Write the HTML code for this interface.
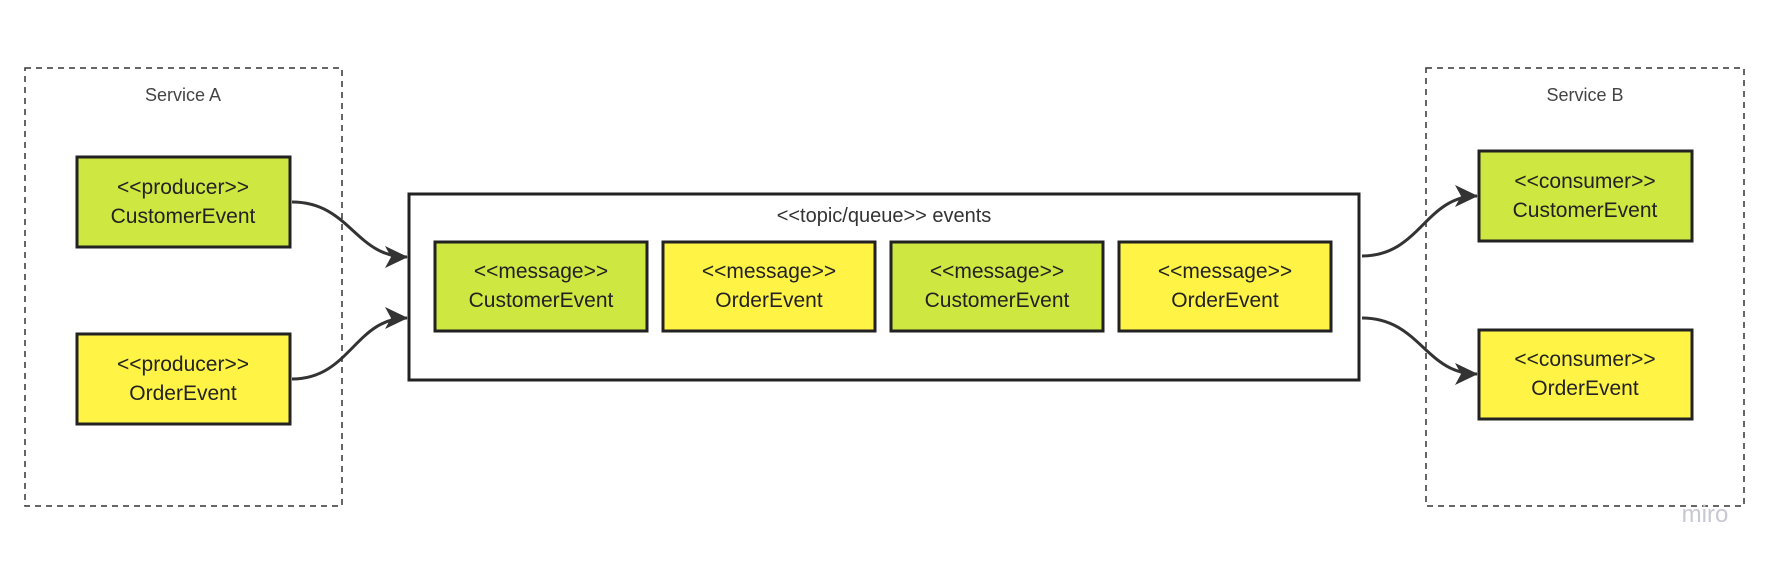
<!DOCTYPE html>
<html><head><meta charset="utf-8"><style>
body{margin:0;background:#fff;width:1771px;height:564px;overflow:hidden;font-family:"Liberation Sans",sans-serif;}
</style></head><body>
<svg width="1771" height="564" viewBox="0 0 1771 564" xmlns="http://www.w3.org/2000/svg" font-family="Liberation Sans, sans-serif">
<defs>
<marker id="b" viewBox="0 0 24 24" markerWidth="24" markerHeight="24" refX="22" refY="12" orient="auto" markerUnits="userSpaceOnUse"><path d="M0,1 L23,12 L0,23 L6,12 Z" fill="#333"/></marker></defs>
<g fill="none" stroke="#333" stroke-width="1.5" stroke-dasharray="6,5">
<rect x="25" y="68" width="317" height="438"/>
<rect x="1426" y="68" width="318" height="438"/>
</g>
<g font-size="18" fill="#444" text-anchor="middle">
<text x="183" y="101">Service A</text>
<text x="1585" y="101">Service B</text>
</g>
<rect x="409" y="194" width="950" height="186" fill="#fff" stroke="#222" stroke-width="3"/>
<text x="884" y="222" font-size="20" fill="#333" text-anchor="middle">&lt;&lt;topic/queue&gt;&gt; events</text>
<g stroke="#222" stroke-width="3">
<rect x="77" y="157" width="213" height="90" fill="#cee741"/>
<rect x="77" y="334" width="213" height="90" fill="#fff445"/>
<rect x="1479" y="151" width="213" height="90" fill="#cee741"/>
<rect x="1479" y="330" width="213" height="89" fill="#fff445"/>
<rect x="435" y="242" width="212" height="89" fill="#cee741"/>
<rect x="663" y="242" width="212" height="89" fill="#fff445"/>
<rect x="891" y="242" width="212" height="89" fill="#cee741"/>
<rect x="1119" y="242" width="212" height="89" fill="#fff445"/>
</g>
<g font-size="21" fill="#222" text-anchor="middle">
<text x="183" y="194">&lt;&lt;producer&gt;&gt;</text><text x="183" y="223">CustomerEvent</text>
<text x="183" y="371">&lt;&lt;producer&gt;&gt;</text><text x="183" y="400">OrderEvent</text>
<text x="1585" y="188">&lt;&lt;consumer&gt;&gt;</text><text x="1585" y="217">CustomerEvent</text>
<text x="1585" y="366">&lt;&lt;consumer&gt;&gt;</text><text x="1585" y="395">OrderEvent</text>
<text x="541" y="278">&lt;&lt;message&gt;&gt;</text><text x="541" y="307">CustomerEvent</text>
<text x="769" y="278">&lt;&lt;message&gt;&gt;</text><text x="769" y="307">OrderEvent</text>
<text x="997" y="278">&lt;&lt;message&gt;&gt;</text><text x="997" y="307">CustomerEvent</text>
<text x="1225" y="278">&lt;&lt;message&gt;&gt;</text><text x="1225" y="307">OrderEvent</text>
</g>
<g fill="none" stroke="#333" stroke-width="3" marker-end="url(#b)">
<path d="M292,202 C350,202 355,257 407,257"/>
<path d="M292,379 C350,379 355,318 407,318"/>
<path d="M1362,256 C1420,256 1425,196 1477,196"/>
<path d="M1362,318 C1420,318 1425,374 1477,374"/>
</g>
<text x="1705" y="522" font-size="24" fill="#c8c8d2" text-anchor="middle">miro</text>
</svg>
</body></html>
